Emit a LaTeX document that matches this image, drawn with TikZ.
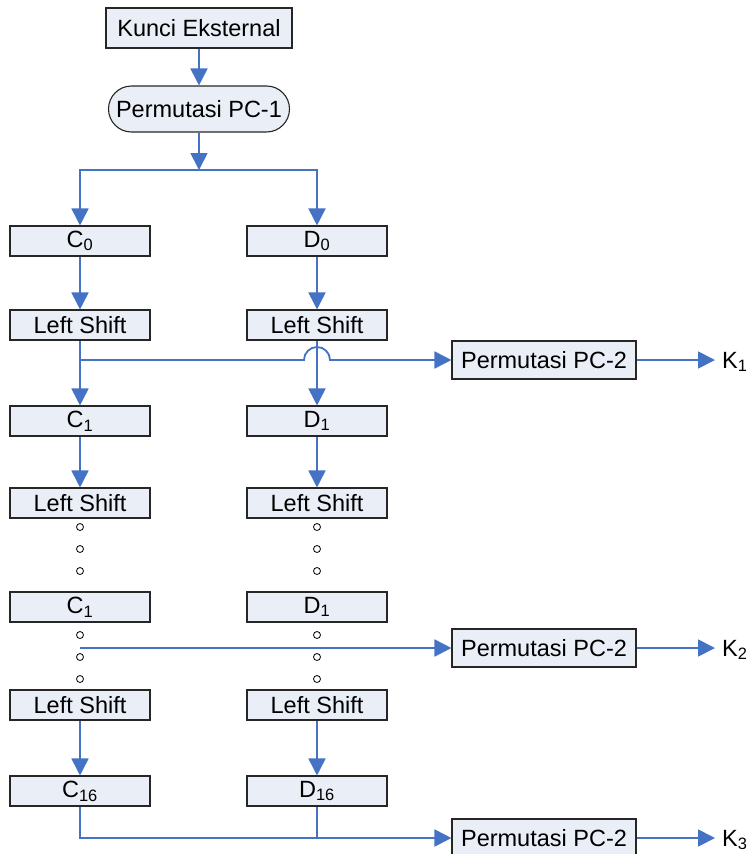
\documentclass[tikz,border=0pt]{standalone}
\usepackage{fontspec}
\setmainfont{Liberation Sans}
\usetikzlibrary{arrows.meta}
\definecolor{boxfill}{RGB}{233,238,247}
\definecolor{linkblue}{RGB}{68,114,196}

\begin{document}
\begin{tikzpicture}[x = 1pt, y = 1pt,
	box/.style = {draw = black!85, line width = 1.1pt, fill = boxfill, inner sep = 0pt, font = \fontsize{23.5}{27}\selectfont},
	reg/.style = {box, minimum width = 140, minimum height = 30},
	perm/.style = {box, minimum width = 184, minimum height = 38},
	link/.style = {draw = linkblue, line width = 1.8pt},
	arr/.style = {link, -{Triangle[width = 17pt, length = 17pt]}},
	dot/.style = {circle, draw = black, fill = white, line width = 0.8pt, minimum size = 7, inner sep = 0pt},
	key/.style = {anchor = west, inner sep = 0pt, font = \fontsize{23.5}{27}\selectfont}]
	\useasboundingbox (0,0) rectangle (748,-854);
	\node[box, minimum width = 186, minimum height = 40] (kunci) at (199,-28) {Kunci Eksternal};
	\node[box, minimum width = 181, minimum height = 46, rounded corners = 23] (pc1) at (199,-109) {Permutasi PC-1};
	\coordinate (split) at (199,-170);
	\node[reg] (c0) at (80,-241) {C\textsubscript{0}};
	\node[reg] (d0) at (317,-241) {D\textsubscript{0}};
	\node[reg] (lsc1) at (80,-325) {Left Shift};
	\node[reg] (lsd1) at (317,-325) {Left Shift};
	\node[reg] (c1) at (80,-421) {C\textsubscript{1}};
	\node[reg] (d1) at (317,-421) {D\textsubscript{1}};
	\node[reg] (lsc2) at (80,-503) {Left Shift};
	\node[reg] (lsd2) at (317,-503) {Left Shift};
	\node[reg] (ci) at (80,-607) {C\textsubscript{1}};
	\node[reg] (di) at (317,-607) {D\textsubscript{1}};
	\node[reg] (lsc3) at (80,-705) {Left Shift};
	\node[reg] (lsd3) at (317,-705) {Left Shift};
	\node[reg] (c16) at (80,-791) {C\textsubscript{16}};
	\node[reg] (d16) at (317,-791) {D\textsubscript{16}};
	\node[perm] (pc2a) at (544,-360) {Permutasi PC-2};
	\node[perm] (pc2b) at (544,-648) {Permutasi PC-2};
	\node[perm] (pc2c) at (544,-838) {Permutasi PC-2};
	\node[key] (k1) at (722,-362) {K\textsubscript{1}};
	\node[key] (k2) at (722,-650) {K\textsubscript{2}};
	\node[key] (k3) at (722,-840) {K\textsubscript{3}};
	\foreach \y in {527,549,571,635,657,679} {
		\node[dot] (dc\y) at (80,-\y) {};
		\node[dot] (dd\y) at (317,-\y) {};
	}
	\coordinate (tap1) at (80,-360);
	\coordinate (tap2) at (80,-648);
	\draw[arr] (kunci) -- (pc1);
	\draw[arr] (pc1) -- (split);
	\draw[arr] (split) -| (c0);
	\draw[arr] (split) -| (d0);
	\draw[arr] (c0) -- (lsc1);
	\draw[arr] (d0) -- (lsd1);
	\draw[arr] (lsc1) -- (c1);
	\draw[arr] (lsd1) -- (d1);
	\draw[arr] (c1) -- (lsc2);
	\draw[arr] (d1) -- (lsd2);
	\draw[arr] (lsc3) -- (c16);
	\draw[arr] (lsd3) -- (d16);
	\draw[arr] (tap1) -- (304,-360) arc (180:0:13pt) -- (pc2a);
	\draw[arr] (tap2) -- (pc2b);
	\draw[arr] (c16) |- (pc2c);
	\draw[link] (d16) -- (d16 |- pc2c);
	\draw[arr] (pc2a) -- ([xshift = -7pt] k1.west |- pc2a);
	\draw[arr] (pc2b) -- ([xshift = -7pt] k2.west |- pc2b);
	\draw[arr] (pc2c) -- ([xshift = -7pt] k3.west |- pc2c);
\end{tikzpicture}
\end{document}
